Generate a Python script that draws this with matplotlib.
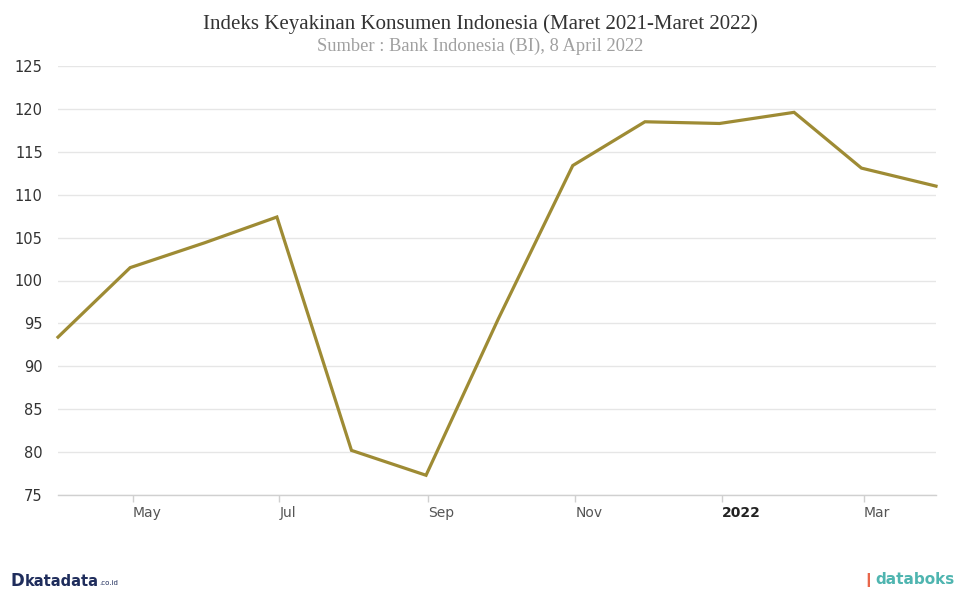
import numpy as np
import pandas as pd
import matplotlib
matplotlib.use("Agg")
import matplotlib.pyplot as plt
import matplotlib.dates as mdates

# IKK, data recorded at month end
months = pd.date_range("2021-03-31", "2022-03-31", freq="ME")
ikk = [93.4, 101.5, 104.4, 107.4, 80.2, 77.3, 95.5, 113.4, 118.5, 118.3, 119.6, 113.1, 111.0]

tick_dates = pd.to_datetime(["2021-05-01", "2021-07-01", "2021-09-01",
                             "2021-11-01", "2022-01-01", "2022-03-01"])
tick_labels = ["May", "Jul", "Sep", "Nov", "2022", "Mar"]
y_ticks = [75, 80, 85, 90, 95, 100, 105, 110, 115, 120, 125]

fig = plt.figure(figsize=(9.61, 5.91), dpi=100)
ax = fig.add_axes([58 / 961, 1 - 495 / 591, 878 / 961, 429 / 591])

ax.plot(months, ikk, color="#9e8b34", lw=2.3, solid_joinstyle="miter", clip_on=False, zorder=3)

ax.set_xlim(months[0], months[-1])
ax.set_ylim(75, 125)
ax.set_yticks(y_ticks)
ax.set_yticklabels([str(v) for v in y_ticks])
ax.grid(axis="y", color="#e6e6e6", lw=1)
ax.set_axisbelow(True)

for s in ["top", "right", "left"]:
    ax.spines[s].set_visible(False)
ax.spines["bottom"].set_color("#d0d0d0")
ax.spines["bottom"].set_linewidth(1)

ax.tick_params(axis="y", length=0, pad=11, labelsize=10.5, labelcolor="#333333")

ax.set_xticks(tick_dates)
ax.set_xticklabels(tick_labels)
ax.tick_params(axis="x", length=5, width=1, color="#d0d0d0", direction="out",
               pad=3, labelsize=10, labelcolor="#555555")
for lab in ax.get_xticklabels():
    lab.set_horizontalalignment("left")
    if lab.get_text() == "2022":
        lab.set_fontweight("bold")
        lab.set_color("#222222")

fig.text(0.5, 1 - 24 / 591, "Indeks Keyakinan Konsumen Indonesia (Maret 2021-Maret 2022)",
         ha="center", va="center", fontsize=15, family="Liberation Serif", color="#333333")
fig.text(0.5, 1 - 46 / 591, "Sumber : Bank Indonesia (BI), 8 April 2022",
         ha="center", va="center", fontsize=13.3, family="Liberation Serif", color="#a0a0a0")

# footer logos as text
fig.text(11 / 961, 1 - 581 / 591, "D", ha="left", va="center", fontsize=12,
         fontweight="bold", color="#1f2d5c")
fig.text(25 / 961, 1 - 581 / 591, "katadata", ha="left", va="center", fontsize=10.5,
         fontweight="bold", color="#1f2d5c")
fig.text(99 / 961, 1 - 583 / 591, ".co.id", ha="left", va="center", fontsize=5,
         color="#1f2d5c")
fig.text(862 / 961, 1 - 580 / 591, "\u2759", ha="left", va="center", fontsize=10,
         color="#e8664a")
fig.text(875 / 961, 1 - 580 / 591, "databoks", ha="left", va="center", fontsize=11,
         fontweight="bold", color="#4fb5b0")

fig.savefig("out.png", dpi=100)
